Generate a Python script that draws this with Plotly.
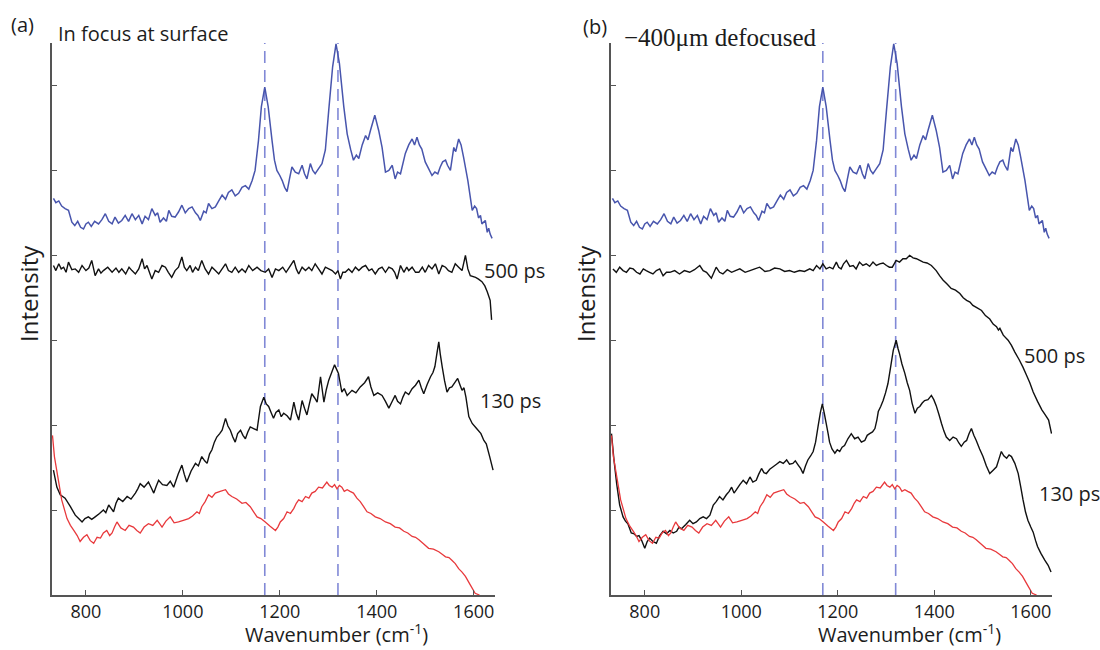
import plotly.graph_objects as go

# ---------------- data (wavenumber cm^-1, intensity in tick units) ----------------
# reference spectrum (blue), same in both panels
blue_ref = [(733, 4.67), (738, 4.62), (744, 4.64), (750, 4.58), (757, 4.55), (764, 4.53), (771, 4.39),
            (777, 4.35), (783, 4.40), (789, 4.33), (795, 4.31), (800, 4.37), (805, 4.39), (811, 4.34),
            (818, 4.40), (826, 4.37), (833, 4.42), (840, 4.49), (847, 4.40), (854, 4.37), (860, 4.45),
            (867, 4.38), (874, 4.41), (881, 4.47), (888, 4.40), (895, 4.49), (902, 4.42), (909, 4.47),
            (916, 4.37), (922, 4.46), (929, 4.42), (936, 4.55), (943, 4.47), (948, 4.50), (953, 4.39),
            (960, 4.44), (966, 4.40), (971, 4.53), (977, 4.46), (984, 4.45), (991, 4.51), (998, 4.59),
            (1005, 4.50), (1012, 4.55), (1019, 4.57), (1026, 4.50), (1031, 4.47), (1036, 4.41), (1043, 4.52),
            (1048, 4.50), (1053, 4.61), (1060, 4.55), (1067, 4.57), (1074, 4.64), (1081, 4.71), (1088, 4.66),
            (1094, 4.74), (1101, 4.77), (1108, 4.70), (1115, 4.73), (1122, 4.80), (1129, 4.82), (1136, 4.78),
            (1143, 4.88), (1149, 5.00), (1156, 5.35), (1162, 5.75), (1169, 5.98), (1176, 5.75), (1184, 5.35),
            (1189, 5.12), (1194, 5.00), (1200, 4.94), (1205, 4.88), (1210, 4.80), (1215, 4.75), (1220, 4.90),
            (1225, 5.04), (1232, 4.98), (1239, 4.96), (1246, 5.06), (1251, 4.96), (1256, 4.90), (1263, 5.08),
            (1268, 5.00), (1273, 4.96), (1280, 5.02), (1287, 5.08), (1294, 5.24), (1301, 5.71), (1309, 6.22),
            (1316, 6.49), (1323, 6.26), (1332, 5.75), (1339, 5.43), (1346, 5.25), (1352, 5.12), (1358, 5.18),
            (1363, 5.14), (1370, 5.30), (1377, 5.41), (1382, 5.36), (1387, 5.47), (1396, 5.65), (1404, 5.47),
            (1411, 5.27), (1418, 4.98), (1425, 5.00), (1432, 5.06), (1438, 4.90), (1443, 4.98), (1449, 4.96),
            (1459, 5.20), (1466, 5.30), (1473, 5.37), (1478, 5.30), (1483, 5.39), (1488, 5.30), (1493, 5.25),
            (1500, 5.10), (1507, 5.02), (1514, 4.94), (1520, 4.98), (1526, 4.96), (1531, 5.04), (1536, 5.10),
            (1542, 5.12), (1546, 5.06), (1552, 5.00), (1559, 5.27), (1563, 5.22), (1569, 5.37), (1574, 5.30),
            (1579, 5.16), (1588, 4.88), (1597, 4.53), (1602, 4.58), (1606, 4.55), (1610, 4.44), (1614, 4.47),
            (1617, 4.37), (1624, 4.41), (1628, 4.27), (1631, 4.32), (1634, 4.25), (1638, 4.20)]

# background spectrum (red), same in both panels
red_bg = [(731, 1.88), (735, 1.63), (742, 1.39), (750, 1.12), (761, 0.90), (768, 0.82), (775, 0.76),
          (782, 0.70), (788, 0.63), (795, 0.68), (802, 0.71), (809, 0.64), (816, 0.61), (823, 0.68),
          (830, 0.67), (836, 0.73), (843, 0.76), (849, 0.70), (854, 0.73), (859, 0.80), (864, 0.86),
          (872, 0.79), (881, 0.76), (889, 0.82), (898, 0.80), (905, 0.76), (912, 0.73), (920, 0.80),
          (929, 0.84), (938, 0.82), (947, 0.88), (952, 0.84), (957, 0.80), (965, 0.87), (974, 0.92),
          (982, 0.85), (991, 0.86), (1001, 0.88), (1012, 0.90), (1020, 0.93), (1029, 0.98), (1034, 0.96),
          (1039, 1.04), (1046, 1.10), (1053, 1.18), (1060, 1.15), (1067, 1.20), (1077, 1.22), (1088, 1.24),
          (1094, 1.19), (1101, 1.16), (1111, 1.13), (1122, 1.08), (1130, 1.09), (1139, 1.04), (1146, 0.98),
          (1153, 0.92), (1161, 0.90), (1170, 0.86), (1180, 0.81), (1191, 0.76), (1196, 0.80), (1201, 0.86),
          (1208, 0.90), (1215, 0.98), (1222, 0.96), (1229, 1.02), (1234, 1.08), (1239, 1.12), (1246, 1.10),
          (1253, 1.16), (1260, 1.14), (1266, 1.20), (1273, 1.22), (1280, 1.27), (1288, 1.26), (1297, 1.33),
          (1302, 1.29), (1308, 1.27), (1313, 1.30), (1318, 1.25), (1323, 1.29), (1328, 1.27), (1333, 1.22),
          (1339, 1.24), (1345, 1.22), (1352, 1.20), (1359, 1.14), (1366, 1.10), (1373, 1.04), (1380, 0.98),
          (1388, 0.96), (1397, 0.92), (1407, 0.90), (1418, 0.86), (1428, 0.84), (1438, 0.80), (1447, 0.79),
          (1456, 0.75), (1464, 0.73), (1473, 0.69), (1480, 0.68), (1487, 0.65), (1497, 0.60), (1507, 0.55),
          (1517, 0.54), (1528, 0.51), (1535, 0.48), (1542, 0.45), (1549, 0.44), (1555, 0.41), (1562, 0.37),
          (1569, 0.31), (1576, 0.27), (1583, 0.22), (1593, 0.12), (1603, 0.02), (1612, 0.0)]

# panel (a): in focus at surface
a_500ps = [(733, 3.88), (738, 3.82), (744, 3.90), (749, 3.84), (754, 3.86), (759, 3.80), (764, 3.92),
           (771, 3.83), (778, 3.84), (785, 3.80), (792, 3.88), (800, 3.82), (806, 3.85), (812, 3.94),
           (819, 3.76), (826, 3.84), (831, 3.79), (836, 3.82), (845, 3.86), (854, 3.80), (862, 3.85),
           (868, 3.80), (874, 3.84), (882, 3.78), (889, 3.86), (895, 3.82), (902, 3.78), (909, 3.84),
           (916, 3.96), (921, 3.84), (926, 3.88), (931, 3.80), (936, 3.72), (943, 3.82), (950, 3.80),
           (957, 3.88), (964, 3.86), (970, 3.80), (977, 3.74), (984, 3.82), (991, 3.86), (998, 3.98),
           (1003, 3.86), (1008, 3.82), (1015, 3.88), (1020, 3.80), (1026, 3.86), (1032, 3.82), (1039, 3.94),
           (1046, 3.84), (1053, 3.78), (1060, 3.86), (1067, 3.82), (1074, 3.78), (1081, 3.84), (1088, 3.90),
           (1094, 3.82), (1101, 3.80), (1108, 3.86), (1115, 3.80), (1122, 3.84), (1129, 3.80), (1136, 3.88),
           (1144, 3.82), (1153, 3.86), (1161, 3.82), (1170, 3.80), (1177, 3.84), (1184, 3.74), (1191, 3.84),
           (1198, 3.82), (1206, 3.86), (1213, 3.80), (1220, 3.86), (1229, 3.94), (1234, 3.84), (1239, 3.78),
           (1246, 3.86), (1253, 3.82), (1260, 3.86), (1266, 3.82), (1273, 3.90), (1280, 3.84), (1287, 3.78),
           (1294, 3.86), (1301, 3.84), (1308, 3.82), (1315, 3.78), (1320, 3.82), (1325, 3.72), (1330, 3.80),
           (1335, 3.80), (1342, 3.84), (1349, 3.80), (1356, 3.86), (1363, 3.82), (1370, 3.86), (1377, 3.88),
           (1384, 3.82), (1390, 3.84), (1397, 3.78), (1404, 3.84), (1411, 3.86), (1418, 3.80), (1425, 3.86),
           (1432, 3.84), (1437, 3.80), (1442, 3.72), (1449, 3.88), (1456, 3.80), (1462, 3.86), (1466, 3.82),
           (1473, 3.86), (1480, 3.80), (1487, 3.80), (1494, 3.86), (1500, 3.80), (1507, 3.88), (1514, 3.84),
           (1521, 3.90), (1528, 3.78), (1535, 3.88), (1542, 3.86), (1548, 3.82), (1555, 3.80), (1562, 3.90),
           (1569, 3.86), (1576, 3.82), (1583, 4.00), (1588, 3.84), (1593, 3.76), (1604, 3.74), (1610, 3.72),
           (1617, 3.69), (1623, 3.64), (1628, 3.57), (1634, 3.47), (1637, 3.24)]

a_130ps = [(733, 1.47), (740, 1.27), (747, 1.18), (757, 1.14), (768, 1.04), (778, 0.94), (785, 0.90),
           (792, 0.86), (798, 0.90), (805, 0.92), (812, 0.89), (819, 0.92), (828, 0.96), (836, 1.00),
           (841, 0.97), (847, 1.06), (852, 1.02), (857, 0.98), (862, 1.08), (867, 1.14), (876, 1.10),
           (885, 1.16), (893, 1.13), (902, 1.20), (907, 1.25), (912, 1.31), (920, 1.27), (929, 1.33),
           (935, 1.26), (940, 1.20), (945, 1.28), (950, 1.35), (958, 1.30), (967, 1.29), (974, 1.34),
           (981, 1.27), (990, 1.42), (998, 1.53), (1003, 1.42), (1008, 1.33), (1017, 1.46), (1026, 1.55),
           (1032, 1.52), (1039, 1.63), (1045, 1.58), (1050, 1.55), (1055, 1.66), (1060, 1.71), (1065, 1.80),
           (1070, 1.86), (1076, 1.90), (1081, 1.94), (1088, 2.08), (1093, 1.99), (1098, 1.94), (1103, 1.86),
           (1108, 1.80), (1113, 1.90), (1119, 1.94), (1124, 1.88), (1129, 1.84), (1134, 1.92), (1139, 1.98),
           (1146, 1.96), (1153, 1.94), (1160, 2.22), (1167, 2.33), (1172, 2.25), (1177, 2.22), (1182, 2.15),
           (1187, 2.08), (1192, 2.15), (1198, 2.18), (1203, 2.10), (1208, 2.14), (1215, 2.11), (1222, 2.06),
           (1229, 2.27), (1234, 2.14), (1239, 2.06), (1246, 2.29), (1251, 2.20), (1256, 2.12), (1261, 2.25),
           (1266, 2.37), (1272, 2.32), (1277, 2.27), (1284, 2.57), (1291, 2.27), (1296, 2.42), (1301, 2.53),
           (1307, 2.62), (1313, 2.71), (1317, 2.66), (1321, 2.61), (1328, 2.39), (1333, 2.43), (1339, 2.35),
           (1344, 2.38), (1349, 2.41), (1357, 2.38), (1366, 2.45), (1375, 2.50), (1383, 2.57), (1388, 2.45),
           (1394, 2.35), (1402, 2.38), (1411, 2.35), (1418, 2.28), (1425, 2.20), (1431, 2.27), (1438, 2.35),
           (1443, 2.28), (1449, 2.25), (1454, 2.33), (1459, 2.39), (1466, 2.36), (1473, 2.43), (1480, 2.47),
           (1487, 2.53), (1492, 2.44), (1497, 2.37), (1504, 2.48), (1511, 2.57), (1516, 2.62), (1520, 2.69),
           (1524, 2.84), (1528, 2.98), (1531, 2.84), (1535, 2.69), (1540, 2.52), (1545, 2.39), (1550, 2.44),
           (1555, 2.45), (1561, 2.50), (1567, 2.55), (1572, 2.47), (1576, 2.41), (1580, 2.44), (1584, 2.33),
           (1590, 2.10), (1597, 2.02), (1606, 1.96), (1615, 1.90), (1621, 1.82), (1626, 1.78), (1633, 1.63),
           (1640, 1.47)]

# panel (b): -400 um defocused
b_500ps = [(734, 3.84), (741, 3.80), (748, 3.86), (755, 3.82), (762, 3.80), (769, 3.85), (776, 3.84),
           (783, 3.80), (790, 3.78), (797, 3.84), (803, 3.82), (810, 3.80), (817, 3.78), (824, 3.82),
           (831, 3.84), (838, 3.76), (845, 3.80), (852, 3.80), (862, 3.82), (872, 3.78), (882, 3.82),
           (893, 3.80), (903, 3.83), (914, 3.88), (921, 3.82), (928, 3.80), (938, 3.73), (948, 3.86),
           (955, 3.80), (962, 3.78), (971, 3.83), (980, 3.80), (988, 3.82), (997, 3.84), (1008, 3.80),
           (1018, 3.82), (1028, 3.84), (1038, 3.86), (1049, 3.81), (1059, 3.82), (1069, 3.85), (1080, 3.84),
           (1090, 3.81), (1100, 3.82), (1110, 3.80), (1121, 3.82), (1131, 3.81), (1142, 3.84), (1149, 3.82),
           (1156, 3.88), (1163, 3.84), (1169, 3.90), (1176, 3.84), (1183, 3.86), (1190, 3.84), (1197, 3.92),
           (1202, 3.86), (1207, 3.84), (1212, 3.90), (1218, 3.94), (1225, 3.87), (1232, 3.88), (1238, 3.84),
           (1245, 3.92), (1252, 3.88), (1259, 3.90), (1266, 3.87), (1273, 3.92), (1280, 3.88), (1287, 3.90),
           (1294, 3.91), (1301, 3.88), (1307, 3.86), (1313, 3.86), (1321, 3.94), (1328, 3.92), (1335, 3.96),
           (1342, 3.96), (1349, 4.00), (1356, 3.97), (1363, 3.96), (1370, 3.94), (1377, 3.92), (1385, 3.91),
           (1394, 3.88), (1404, 3.82), (1411, 3.76), (1418, 3.71), (1427, 3.66), (1435, 3.61), (1444, 3.59),
           (1453, 3.55), (1460, 3.50), (1467, 3.47), (1474, 3.45), (1480, 3.41), (1489, 3.38), (1498, 3.35),
           (1506, 3.29), (1515, 3.25), (1522, 3.19), (1529, 3.16), (1533, 3.12), (1536, 3.14), (1543, 3.06),
           (1553, 3.00), (1560, 2.94), (1567, 2.86), (1576, 2.77), (1584, 2.68), (1591, 2.59), (1598, 2.50),
           (1605, 2.39), (1614, 2.28), (1623, 2.18), (1630, 2.12), (1637, 2.06), (1643, 1.90)]

b_130ps = [(731, 1.90), (736, 1.60), (742, 1.30), (748, 1.06), (755, 0.92), (760, 0.87), (765, 0.84),
           (772, 0.73), (778, 0.72), (783, 0.69), (788, 0.70), (793, 0.65), (800, 0.55), (805, 0.63),
           (810, 0.67), (817, 0.63), (824, 0.61), (831, 0.70), (838, 0.75), (845, 0.72), (852, 0.76),
           (859, 0.73), (866, 0.75), (871, 0.80), (876, 0.78), (885, 0.83), (893, 0.88), (900, 0.84),
           (907, 0.86), (914, 0.90), (921, 0.92), (928, 0.90), (935, 0.94), (942, 1.06), (948, 1.10),
           (955, 1.16), (962, 1.12), (969, 1.18), (975, 1.22), (980, 1.27), (985, 1.20), (990, 1.24),
           (997, 1.30), (1004, 1.35), (1011, 1.31), (1018, 1.39), (1024, 1.33), (1031, 1.35), (1036, 1.42),
           (1042, 1.49), (1047, 1.44), (1052, 1.43), (1059, 1.48), (1066, 1.51), (1073, 1.54), (1080, 1.57),
           (1087, 1.55), (1094, 1.59), (1100, 1.54), (1107, 1.55), (1112, 1.58), (1118, 1.53), (1123, 1.49),
           (1128, 1.43), (1133, 1.52), (1138, 1.59), (1144, 1.64), (1149, 1.69), (1154, 1.80), (1159, 1.98),
           (1164, 2.15), (1168, 2.25), (1172, 2.14), (1176, 2.02), (1180, 1.90), (1183, 1.80), (1188, 1.72),
           (1194, 1.67), (1199, 1.71), (1204, 1.69), (1209, 1.74), (1214, 1.76), (1221, 1.84), (1228, 1.90),
           (1235, 1.84), (1242, 1.86), (1249, 1.80), (1256, 1.82), (1261, 1.88), (1266, 1.90), (1272, 1.92),
           (1277, 1.96), (1281, 2.06), (1284, 2.16), (1289, 2.22), (1294, 2.29), (1299, 2.38), (1304, 2.49),
           (1310, 2.70), (1315, 2.88), (1321, 3.00), (1325, 2.90), (1328, 2.84), (1333, 2.72), (1339, 2.61),
           (1344, 2.50), (1349, 2.41), (1354, 2.26), (1360, 2.14), (1365, 2.20), (1370, 2.22), (1375, 2.26),
           (1380, 2.29), (1387, 2.30), (1394, 2.35), (1399, 2.30), (1404, 2.23), (1410, 2.12), (1415, 2.02),
           (1420, 1.93), (1425, 1.86), (1432, 1.82), (1439, 1.86), (1446, 1.84), (1451, 1.79), (1456, 1.75),
           (1462, 1.80), (1467, 1.82), (1472, 1.90), (1477, 1.96), (1482, 1.88), (1487, 1.82), (1494, 1.72),
           (1501, 1.63), (1508, 1.52), (1515, 1.43), (1522, 1.47), (1529, 1.51), (1534, 1.60), (1539, 1.69),
           (1544, 1.64), (1550, 1.61), (1555, 1.65), (1560, 1.63), (1567, 1.55), (1574, 1.43), (1579, 1.28),
           (1584, 1.12), (1589, 0.98), (1594, 0.88), (1600, 0.80), (1605, 0.74), (1610, 0.64), (1614, 0.57),
           (1621, 0.49), (1629, 0.41), (1636, 0.35), (1642, 0.27)]

peak_lines = [1169, 1320]
x_ticks = [800, 1000, 1200, 1400, 1600]
y_ticks = [1, 2, 3, 4, 5, 6]
x_range = [730, 1644]
y_range = [0, 6.5]

panel_titles = ["In focus at surface", "\u2212400\u03bcm defocused"]
panel_letters = ["(a)", "(b)"]
curve_labels = [("500 ps", 1618, 3.82), ("130 ps", 1608, 2.29),   # panel a
                ("500 ps", 1581, 2.82), ("130 ps", 1612, 1.20)]   # panel b

# ---------------- styling ----------------
W, H = 1100, 650
BLUE = "#4855ad"
RED = "#e8393c"
BLACK = "#111111"
DASH = "#8189d6"
AXIS = "#555555"
TXT = "#1c1c1c"
FONT = "Open Sans"


def xs(d):
    return [p[0] for p in d]


def ys(d):
    return [p[1] for p in d]


fig = go.Figure()

panels = [("x", "y", [("ref", blue_ref, BLUE, 1.5), ("500", a_500ps, BLACK, 1.4),
                       ("130", a_130ps, BLACK, 1.4), ("bg", red_bg, RED, 1.3)]),
          ("x2", "y2", [("ref", blue_ref, BLUE, 1.5), ("500", b_500ps, BLACK, 1.4),
                         ("130", b_130ps, BLACK, 1.4), ("bg", red_bg, RED, 1.3)])]

for xa, ya, curves in panels:
    for name, d, col, w in curves:
        fig.add_trace(go.Scatter(x=xs(d), y=ys(d), mode="lines", name=name,
                                 line=dict(color=col, width=w, simplify=False), xaxis=xa, yaxis=ya,
                                 hoverinfo="skip"))
    for v in peak_lines:
        fig.add_shape(type="line", xref=xa, yref=ya + " domain", x0=v, x1=v, y0=0, y1=1,
                      line=dict(color=DASH, width=1.6, dash="12px,7px"), layer="below")

# panel geometry in pixels
dom_a = [52 / W, 495 / W]
dom_b = [611 / W, 1052 / W]
dom_y = [1 - 595 / H, 1 - 43 / H]

xcommon = dict(range=x_range, showline=True, linecolor=AXIS, linewidth=1.5, ticks="inside",
               ticklen=5, tickwidth=1.2, tickcolor=AXIS, tickvals=x_ticks,
               tickfont=dict(size=18, color=TXT, family=FONT), showgrid=False, zeroline=False,
               fixedrange=True)
ycommon = dict(range=y_range, showline=True, linecolor=AXIS, linewidth=1.5, ticks="inside",
               ticklen=5, tickwidth=1.2, tickcolor=AXIS, tickvals=y_ticks, showticklabels=False,
               showgrid=False, zeroline=False, domain=dom_y, fixedrange=True)

fig.update_layout(
    width=W, height=H, margin=dict(l=0, r=0, t=0, b=0),
    plot_bgcolor="white", paper_bgcolor="white", showlegend=False,
    font=dict(family=FONT, color=TXT),
    xaxis=dict(domain=dom_a, anchor="y", **xcommon),
    yaxis=dict(anchor="x", **ycommon),
    xaxis2=dict(domain=dom_b, anchor="y2", **xcommon),
    yaxis2=dict(anchor="x2", **ycommon),
)

ann = []
# panel letters
ann.append(dict(text=panel_letters[0], x=9 / W, y=1 - 25 / H, xref="paper", yref="paper",
                xanchor="left", yanchor="middle", showarrow=False, font=dict(size=20, family=FONT)))
ann.append(dict(text=panel_letters[1], x=581 / W, y=1 - 26 / H, xref="paper", yref="paper",
                xanchor="left", yanchor="middle", showarrow=False, font=dict(size=20, family=FONT)))
# panel titles
ann.append(dict(text=panel_titles[0], x=56 / W, y=1 - 33 / H, xref="paper", yref="paper",
                xanchor="left", yanchor="middle", showarrow=False, font=dict(size=20, family=FONT)))
ann.append(dict(text=panel_titles[1], x=622 / W, y=1 - 37 / H, xref="paper", yref="paper",
                xanchor="left", yanchor="middle", showarrow=False,
                font=dict(size=25, family="Liberation Serif")))
# axis titles
for cx in (28, 585):
    ann.append(dict(text="Intensity", x=cx / W, y=1 - 294 / H, xref="paper", yref="paper",
                    xanchor="center", yanchor="middle", textangle=-90, showarrow=False,
                    font=dict(size=24, family=FONT)))
for cx in (336, 909):
    ann.append(dict(text="Wavenumber (cm<sup>-1</sup>)", x=cx / W, y=0, xref="paper",
                    yref="paper", xanchor="center", yanchor="bottom", showarrow=False,
                    font=dict(size=20, family=FONT)))
# curve labels
for i, (t, xv, yv) in enumerate(curve_labels):
    xr, yr = ("x", "y") if i < 2 else ("x2", "y2")
    ann.append(dict(text=t, x=xv, y=yv, xref=xr, yref=yr, xanchor="left", yanchor="middle",
                    showarrow=False, font=dict(size=20, family=FONT)))

fig.update_layout(annotations=ann)

fig.write_html("out.html", config={"displayModeBar": False},
               post_script="document.body.style.margin='0px';")
